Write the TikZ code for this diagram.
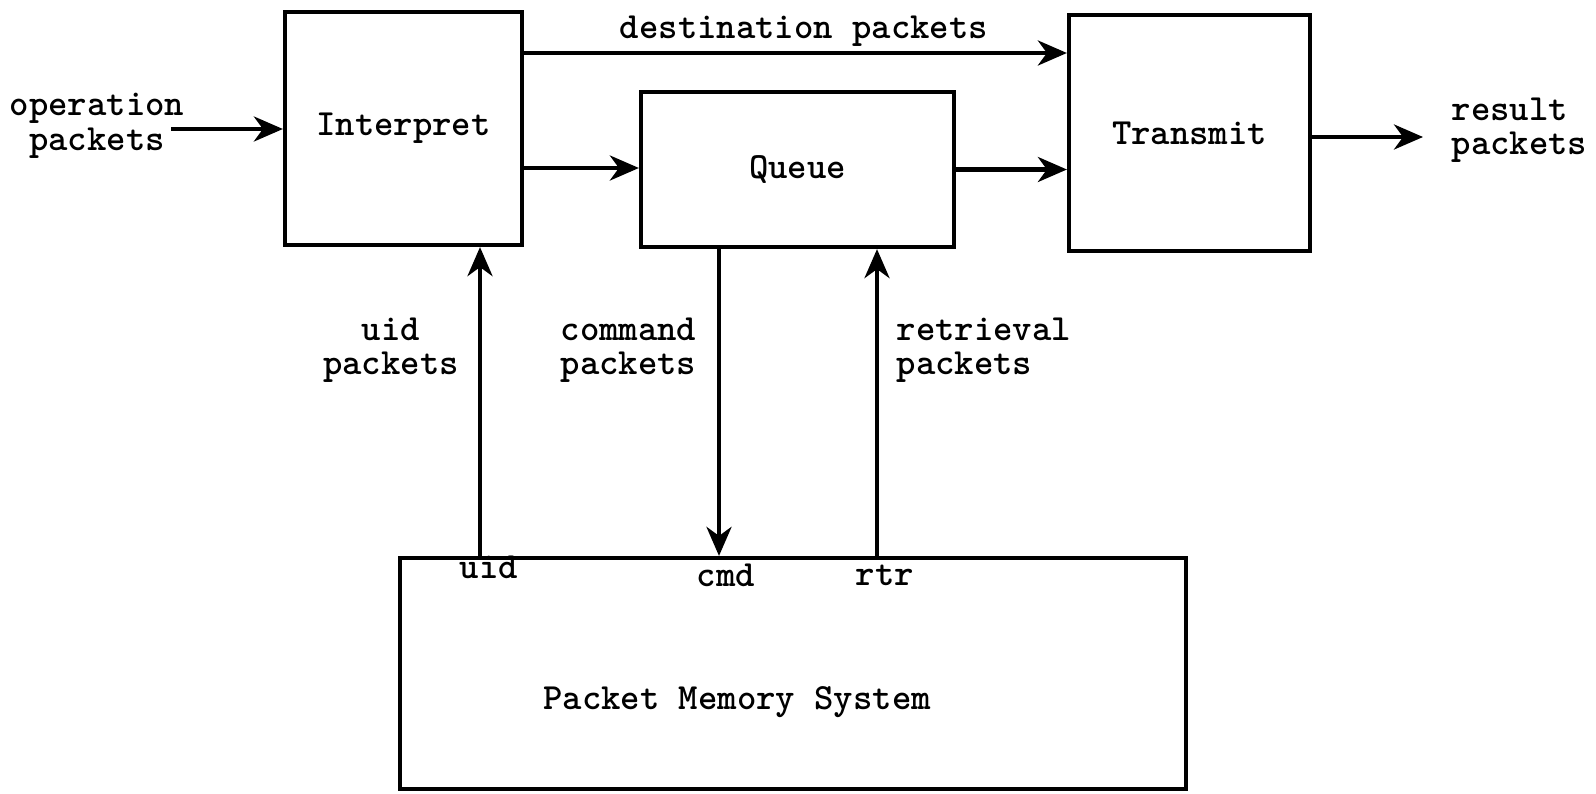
\documentclass[tikz,border=0pt]{standalone}
\usepackage{fontspec}
\usetikzlibrary{arrows.meta, positioning}

\begin{document}
\begin{tikzpicture}[
x=0.1mm, y=-0.1mm,
texts/.style = {text=black, inner sep=0pt, font=\ttfamily\bfseries\fontsize{10.5pt}{9.8pt}\selectfont},
labeltexts/.style = {texts, align=left},
unit/.style = {texts, draw, line width=1.2pt},
flow/.style = {draw, line width=1.2pt, -{Stealth[length=2.9mm, width=2.5mm, inset=0.9mm]}}
]
\useasboundingbox (0,0) rectangle (1596,793);

\node[unit, minimum width=23.7mm, minimum height=23.3mm] (interp) at (403.5,128.5) {Interpret};
\node[unit, minimum width=31.3mm, minimum height=15.5mm] (queue) at (797.5,169.5) {Queue};
\node[unit, minimum width=24.1mm, minimum height=23.6mm] (transmit) at (1189.5,133) {Transmit};
\node[unit, minimum width=78.6mm, minimum height=23.1mm] (pms) at (793,673.5) {};
\node[texts] (pmstext) at (737,702) {Packet Memory System};

% inputs and outputs
\node[texts, align=center] (oplabel) at (97,126) {operation\\packets};
\coordinate (opin) at (171,129);
\draw[flow] (opin) -- (interp.west |- opin);

\node[texts] (destlabel) at (804,31) {destination packets};
\coordinate (desty) at (0,53);
\draw[flow] (interp.east |- desty) -- (transmit.west |- desty);

\coordinate (queuey) at (0,168);
\draw[flow] (interp.east |- queuey) -- (queue.west |- queuey);
\draw[flow] (queue.east) -- (transmit.west |- queue.east);

\coordinate (resout) at (1423,137);
\draw[flow] (transmit.east |- resout) -- (resout);
\node[labeltexts, anchor=west] (reslabel) at (1451,130) {result\\packets};

% memory ports
\coordinate (uidport) at (480,0);
\coordinate (cmdport) at (719,0);
\coordinate (rtrport) at (877,0);
\draw[flow] (pms.north -| uidport) -- (interp.south -| uidport);
\draw[flow] (queue.south -| cmdport) -- (pms.north -| cmdport);
\draw[flow] (pms.north -| rtrport) -- (queue.south -| rtrport);

\node[texts] (uidtext) at (489,567) {uid};
\node[texts] (cmdtext) at (726,575) {cmd};
\node[texts] (rtrtext) at (885,575) {rtr};

\node[texts, align=center] (uidlabel) at (391,350) {uid\\packets};
\node[labeltexts, anchor=west] (cmdlabel) at (560,350) {command\\packets};
\node[labeltexts, anchor=west] (rtrlabel) at (896,350) {retrieval\\packets};
\end{tikzpicture}
\end{document}
